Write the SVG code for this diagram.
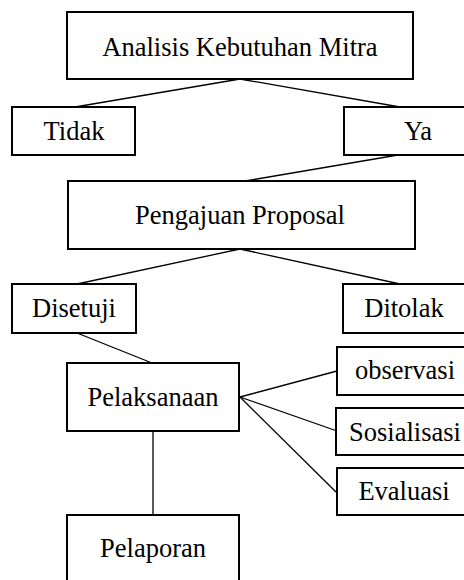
<svg xmlns="http://www.w3.org/2000/svg" width="464" height="580" viewBox="0 0 464 580">
<style>
.box{fill:#fff;stroke:#000;stroke-width:2}
.lbl{font-family:"Liberation Serif","Times New Roman",serif;font-size:26.5px;fill:#000;text-anchor:middle}
.con line{stroke:#000;stroke-width:1.3}
</style>
<rect width="464" height="580" fill="#fff"/>
<g class="con" id="connectors">
<line x1="240" y1="79" x2="75" y2="107"/>
<line x1="240" y1="79" x2="400" y2="107"/>
<line x1="398" y1="155" x2="245" y2="181"/>
<line x1="240" y1="249" x2="77" y2="284"/>
<line x1="240" y1="249" x2="400" y2="284"/>
<line x1="77" y1="333" x2="152" y2="363"/>
<line x1="240" y1="397" x2="337" y2="371"/>
<line x1="240" y1="397" x2="337" y2="431"/>
<line x1="240" y1="397" x2="336" y2="492"/>
<line x1="153" y1="431" x2="153" y2="515"/>
</g>
<g id="analisis"><rect class="box" x="67" y="12" width="346" height="67"/><text class="lbl" x="240" y="56">Analisis Kebutuhan Mitra</text></g>
<g id="tidak"><rect class="box" x="12" y="107" width="123" height="48"/><text class="lbl" x="74" y="140">Tidak</text></g>
<g id="ya"><rect class="box" x="344" y="107" width="125" height="48"/><text class="lbl" x="418" y="140">Ya</text></g>
<g id="pengajuan"><rect class="box" x="68" y="181" width="347" height="68"/><text class="lbl" x="240" y="224">Pengajuan Proposal</text></g>
<g id="disetuji"><rect class="box" x="12" y="284" width="124" height="49"/><text class="lbl" x="74" y="317">Disetuji</text></g>
<g id="ditolak"><rect class="box" x="343" y="284" width="125" height="49"/><text class="lbl" x="404" y="317">Ditolak</text></g>
<g id="pelaksanaan"><rect class="box" x="67" y="363" width="172" height="68"/><text class="lbl" x="153" y="406">Pelaksanaan</text></g>
<g id="observasi"><rect class="box" x="337" y="347" width="130" height="48"/><text class="lbl" x="405" y="379">observasi</text></g>
<g id="sosialisasi"><rect class="box" x="336" y="408" width="130" height="47"/><text class="lbl" x="405" y="441">Sosialisasi</text></g>
<g id="evaluasi"><rect class="box" x="337" y="468" width="130" height="47"/><text class="lbl" x="404" y="500">Evaluasi</text></g>
<g id="pelaporan"><rect class="box" x="67" y="515" width="172" height="80"/><text class="lbl" x="153" y="557">Pelaporan</text></g>
</svg>
